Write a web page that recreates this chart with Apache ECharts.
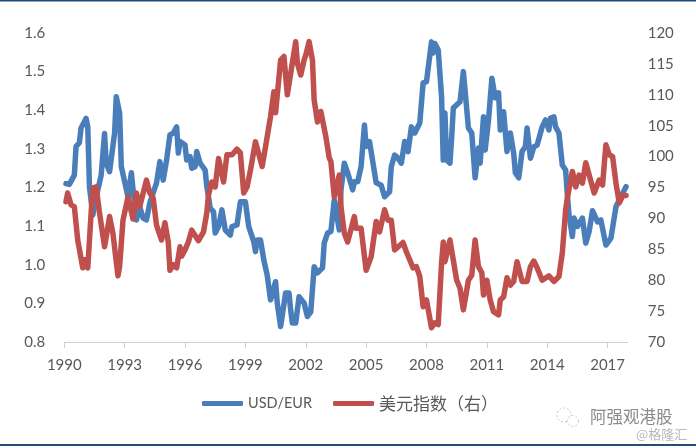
<!DOCTYPE html>
<html><head><meta charset="utf-8">
<style>html,body{margin:0;padding:0;background:#fff}#c{width:696px;height:448px}</style>
<script src="https://cdn.jsdelivr.net/npm/echarts@6/dist/echarts.min.js"></script>
</head><body><div id="c"></div>
<script>
// x positions are months counted from January 1990
var tickYears = [1990,1993,1996,1999,2002,2005,2008,2011,2014,2017];
var usdMonths = [1,3,6,7,9,10,11,13,14,15,17,20,22,24,25,27,28,30,31,33,34,36,37,38,40,41,43,45,47,49,51,53,55,57,59,61,63,65,67,68,69,72,73,75,76,78,79,81,82,84,85,86,87,89,90,92,94,96,99,100,103,105,108,110,113,114,115,117,119,121,123,126,127,129,132,134,135,136,138,140,143,145,147,149,151,154,155,157,159,161,164,165,167,169,172,173,175,177,179,180,182,183,184,186,187,189,191,194,195,197,199,201,203,205,207,209,212,214,216,219,220,221,223,225,226,227,228,230,231,232,236,238,241,243,245,247,248,250,251,253,255,257,259,260,262,264,266,268,269,271,273,275,276,278,280,282,285,287,289,290,292,293,295,297,299,300,301,303,304,306,309,311,313,315,318,320,323,326,329,331,335];
var usdValues = [1.21,1.208,1.232,1.306,1.316,1.354,1.362,1.379,1.357,1.202,1.129,1.194,1.232,1.34,1.263,1.241,1.238,1.341,1.435,1.393,1.254,1.215,1.212,1.175,1.238,1.194,1.116,1.15,1.121,1.116,1.16,1.186,1.212,1.267,1.219,1.271,1.336,1.341,1.357,1.289,1.319,1.31,1.271,1.28,1.25,1.254,1.293,1.263,1.267,1.245,1.202,1.176,1.147,1.137,1.082,1.099,1.142,1.09,1.077,1.099,1.103,1.163,1.163,1.099,1.06,1.034,1.064,1.064,1.012,0.973,0.909,0.956,0.901,0.84,0.927,0.927,0.883,0.849,0.849,0.917,0.901,0.866,0.878,0.995,0.979,0.992,1.056,1.082,1.086,1.168,1.09,1.194,1.263,1.238,1.194,1.215,1.215,1.254,1.362,1.306,1.319,1.293,1.293,1.212,1.212,1.206,1.176,1.189,1.254,1.284,1.276,1.263,1.319,1.293,1.357,1.341,1.367,1.471,1.474,1.577,1.548,1.573,1.556,1.435,1.271,1.393,1.271,1.263,1.328,1.406,1.422,1.5,1.354,1.341,1.225,1.302,1.263,1.383,1.297,1.375,1.483,1.432,1.445,1.349,1.396,1.293,1.341,1.289,1.238,1.225,1.293,1.306,1.354,1.276,1.305,1.31,1.357,1.375,1.349,1.38,1.383,1.357,1.341,1.258,1.245,1.181,1.129,1.073,1.121,1.099,1.121,1.056,1.086,1.14,1.111,1.116,1.051,1.069,1.15,1.168,1.202];
var dxyMonths = [1,2,4,6,8,11,12,14,16,17,19,21,24,25,27,29,32,33,35,38,39,41,43,45,49,51,53,55,58,60,62,63,65,67,69,70,72,74,76,80,83,85,86,88,90,92,95,97,100,103,105,107,109,111,114,115,118,120,123,125,126,129,131,133,138,139,141,143,144,146,148,149,151,153,156,158,159,161,164,165,167,169,173,174,177,180,183,186,188,191,193,195,197,202,204,205,208,210,212,214,216,219,221,223,225,226,227,230,231,234,236,238,241,243,245,247,249,250,252,254,256,259,260,262,264,266,268,270,273,276,278,280,282,285,289,292,295,297,299,300,303,305,307,309,311,312,316,319,321,323,325,327,329,331,333,335];
var dxyValues = [92.7,94.1,92.2,91.9,86.5,82,83.3,82,90.9,94.9,95.1,90.9,85.4,87,90.3,87.6,80.7,82.2,89.7,93.5,92.2,89.9,94.1,91.9,96.2,94.1,93.3,88.9,86.5,89.3,86.2,81.6,82.5,82,85.4,83.9,84.9,86.2,88.1,86.4,87.8,90.9,93.8,95.9,95.1,99.7,95.9,100.3,100.3,101.2,100.6,94.1,95.1,97.8,102.4,102.2,98.4,101.6,106.5,110.5,107.1,115.6,116.2,110,118.6,115.1,113.2,115.6,116.4,118.6,115.6,109.2,105.6,107.3,103.2,99.8,99.2,93.5,97,91.9,87.6,86.2,90.3,88.4,88.4,81.6,83.8,89.5,87.8,91.4,89.7,89.7,84.9,86.1,84.6,84.7,82,82.2,80.6,75.7,76.8,72.3,73.1,72.8,82.8,86.2,83,86.5,86.5,80,78.7,75.2,80,80.8,86.5,82.2,81.2,77.6,80,76.8,74.9,74.4,76.8,77.3,80.4,79.2,79.8,83,79.8,79.8,82.2,83.1,82,80,80.7,79.8,80.6,84.4,91.4,93.3,97.6,95.1,97,95.7,99,99,94.1,96.2,95.4,101.9,100.3,100,95.7,92.5,93.7,93.7];

function pairs(xs, ys){ return xs.map(function(x,i){ return [x, ys[i]]; }); }
var tickMonths = tickYears.map(function(y){ return (y-1990)*12; });
var textColor = '#595959';
var chart = echarts.init(document.getElementById('c'), null, {renderer:'canvas'});
chart.setOption({
  animation:false,
  backgroundColor:'#fff',
  grid:{left:64.3,right:68.3,top:33,bottom:106,containLabel:false},
  legend:{
    left:202, top:395, padding:0, itemWidth:41, itemHeight:5, itemGap:21,
    data:[
      {name:'USD/EUR', icon:'roundRect', textStyle:{fontSize:14.5,fontFamily:'Lato',color:textColor}},
      {name:'美元指数（右）', icon:'roundRect', textStyle:{fontSize:17,fontFamily:'Noto Sans CJK SC',color:textColor}}
    ]
  },
  xAxis:{
    type:'value', min:0, max:336, splitLine:{show:false},
    axisLine:{show:true,lineStyle:{color:'#d0d0d0',width:1}},
    axisTick:{show:true,length:6,lineStyle:{color:'#d0d0d0'},customValues:tickMonths},
    axisLabel:{color:textColor,fontSize:15,fontFamily:'Lato',margin:16,
      customValues:tickMonths,
      formatter:function(v){return String(1990+Math.round(v/12));}}
  },
  yAxis:[
    {type:'value',min:0.8,max:1.6,interval:0.1,splitLine:{show:false},axisLine:{show:false},axisTick:{show:false},
     axisLabel:{color:textColor,fontSize:15,fontFamily:'Lato',margin:19,formatter:function(v){return v.toFixed(1);}}},
    {type:'value',min:70,max:120,interval:5,position:'right',splitLine:{show:false},axisLine:{show:false},axisTick:{show:false},
     axisLabel:{color:textColor,fontSize:15,fontFamily:'Lato',margin:20}}
  ],
  series:[
    {name:'USD/EUR',type:'line',yAxisIndex:0,showSymbol:false,symbol:'none',smooth:false,
     data:pairs(usdMonths,usdValues),
     lineStyle:{color:'#4a7ebb',width:5.5,cap:'round',join:'round'},itemStyle:{color:'#4a7ebb'}},
    {name:'美元指数（右）',type:'line',yAxisIndex:1,showSymbol:false,symbol:'none',smooth:false,
     data:pairs(dxyMonths,dxyValues),
     lineStyle:{color:'#c0504d',width:5.5,cap:'round',join:'round'},itemStyle:{color:'#c0504d'}}
  ],
  graphic:[
    {type:'rect',shape:{x:0,y:0,width:696,height:1.5},style:{fill:'#1f4e79'}},
    {type:'rect',shape:{x:0,y:444,width:696,height:2},style:{fill:'#1f4e79'}},
    {type:'text',x:590,y:408,style:{text:'阿强观港股',font:'16.5px "Noto Sans CJK SC"',fill:'#8a8a8a'}},
    {type:'text',x:636,y:428,style:{text:'@格隆汇',font:'13px "Noto Sans CJK SC"',fill:'#b8b8b8'}},
    {type:'circle',shape:{cx:564,cy:415,r:7},style:{fill:'none',stroke:'#c8c8c8',lineWidth:1,lineDash:[2,2]}},
    {type:'circle',shape:{cx:573,cy:421,r:5.5},style:{fill:'#fff',stroke:'#c8c8c8',lineWidth:1,lineDash:[2,2]}}
  ]
});
</script></body></html>
